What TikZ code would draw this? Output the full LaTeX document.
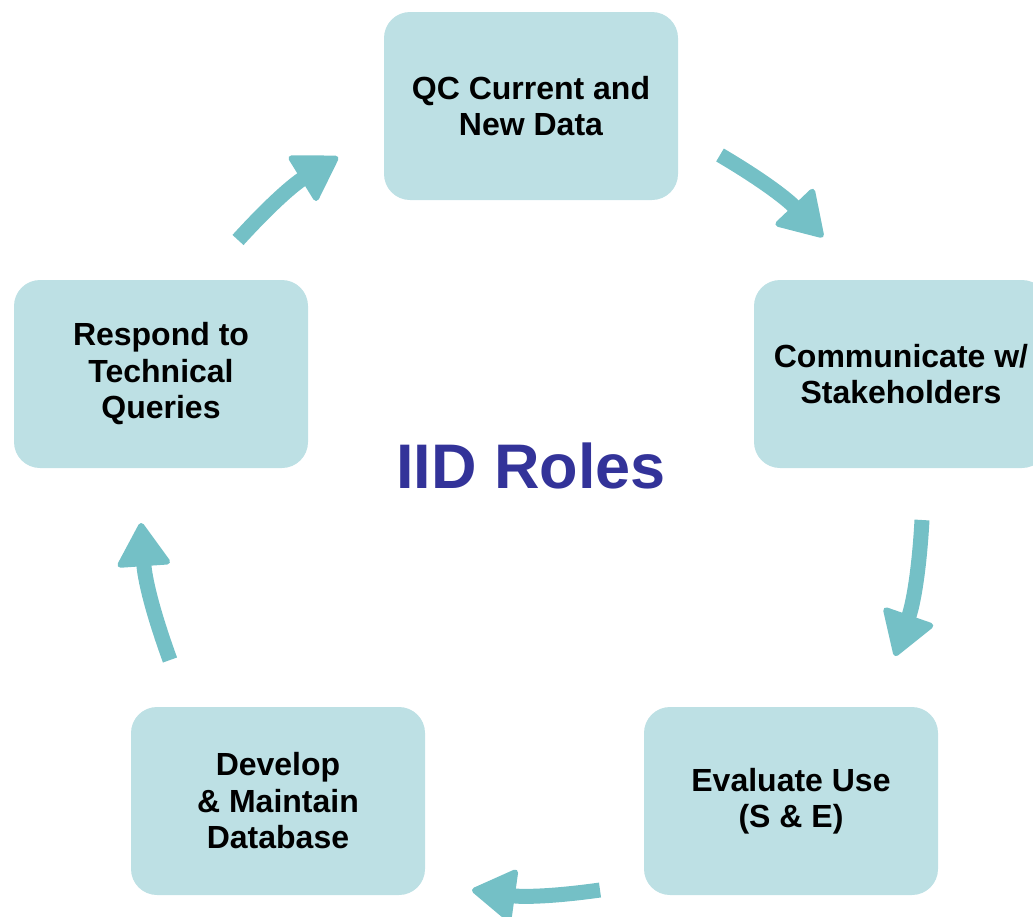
\documentclass[tikz,border=0pt]{standalone}
\usepackage{fontspec}
\setmainfont{Liberation Sans}
\usetikzlibrary{arrows.meta}
\definecolor{boxfill}{HTML}{BDE0E4}
\definecolor{arrowcol}{HTML}{74C0C6}
\definecolor{titlecol}{HTML}{333399}
\tikzset{
  role/.style = {
    fill=boxfill, rounded corners=26pt,
    minimum width=294pt, minimum height=188pt,
    align=center, font=\bfseries\fontsize{32}{36.5}\selectfont
  },
  cyclearrow/.style = {
    arrowcol, line width=15pt,
    -{Triangle[length=46pt,width=56pt,round,line width=6pt]}
  }
}
\begin{document}
\begin{tikzpicture}[x=1pt,y=-1pt]
  \useasboundingbox (0,0) rectangle (1033,916);
  % roles
  \node[role] (qc)   at (531,106) {QC Current and\\New Data};
  \node[role] (comm) at (901,374) {Communicate w/\\Stakeholders};
  \node[role] (eval) at (791,801) {Evaluate Use\\(S \& E)};
  \node[role] (dev)  at (278,801) {Develop\\\& Maintain\\Database};
  \node[role] (resp) at (161,374) {Respond to\\Technical\\Queries};
  % title
  \node[font=\bfseries\fontsize{63}{70}\selectfont, text=titlecol] (title) at (531,466) {IID Roles};
  % arrows
  \coordinate (a1) at (238,240); \coordinate (b1) at (338,157);
  \coordinate (a2) at (720,155); \coordinate (b2) at (823,237);
  \coordinate (a3) at (922,520); \coordinate (b3) at (895,656);
  \coordinate (a4) at (600,890); \coordinate (b4) at (472,890);
  \coordinate (a5) at (170,660); \coordinate (b5) at (141,523);
  \foreach \i in {1,...,5}
    \draw[cyclearrow] (a\i) to[bend left=8] (b\i);
\end{tikzpicture}
\end{document}
